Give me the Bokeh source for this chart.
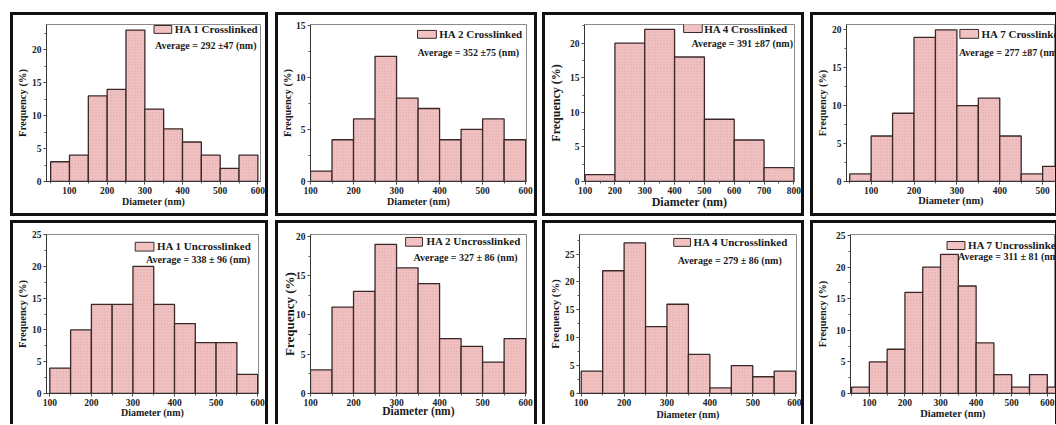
import math
from bokeh.plotting import figure
from bokeh.layouts import row, column
from bokeh.models import Spacer, Label, BoxAnnotation, SingleIntervalTicker, Range1d
from bokeh.embed import file_html
from bokeh.resources import INLINE

# ---------------- data ----------------
ha1_cl_left = [50, 100, 150, 200, 250, 300, 350, 400, 450, 500, 550]
ha1_cl_freq = [3, 4, 13, 14, 23, 11, 8, 6, 4, 2, 4]
ha2_cl_left = [100, 150, 200, 250, 300, 350, 400, 450, 500, 550]
ha2_cl_freq = [1, 4, 6, 12, 8, 7, 4, 5, 6, 4]
ha4_cl_left = [100, 200, 300, 400, 500, 600, 700]
ha4_cl_freq = [1, 20, 22, 18, 9, 6, 2]
ha7_cl_left = [50, 100, 150, 200, 250, 300, 350, 400, 450, 500]
ha7_cl_freq = [1, 6, 9, 19, 20, 10, 11, 6, 1, 2]
ha1_un_left = [100, 150, 200, 250, 300, 350, 400, 450, 500, 550]
ha1_un_freq = [4, 10, 14, 14, 20, 14, 11, 8, 8, 3]
ha2_un_left = [100, 150, 200, 250, 300, 350, 400, 450, 500, 550]
ha2_un_freq = [3, 11, 13, 19, 16, 14, 7, 6, 4, 7]
ha4_un_left = [100, 150, 200, 250, 300, 350, 400, 450, 500, 550]
ha4_un_freq = [4, 22, 27, 12, 16, 7, 1, 5, 3, 4]
ha7_un_left = [50, 100, 150, 200, 250, 300, 350, 400, 450, 500, 550, 600]
ha7_un_freq = [1, 5, 7, 16, 20, 22, 17, 8, 3, 1, 3, 1]

bin_widths = [50, 50, 100, 50, 50, 50, 50, 50]
titles = ["HA 1 Crosslinked", "HA 2 Crosslinked", "HA 4 Crosslinked", "HA 7 Crosslinked",
          "HA 1 Uncrosslinked", "HA 2 Uncrosslinked", "HA 4 Uncrosslinked", "HA 7 Uncrosslinked"]
averages = ["Average = 292 \u00b147 (nm)", "Average = 352 \u00b175 (nm)", "Average = 391 \u00b187 (nm)",
            "Average = 277 \u00b187 (nm)", "Average = 338 \u00b1 96 (nm)", "Average = 327 \u00b1 86 (nm)",
            "Average = 279 \u00b1 86 (nm)", "Average = 311 \u00b1 81 (nm)"]
x_title = "Diameter (nm)"
y_title = "Frequency (%)"

lefts = [ha1_cl_left, ha2_cl_left, ha4_cl_left, ha7_cl_left,
         ha1_un_left, ha2_un_left, ha4_un_left, ha7_un_left]
freqs = [ha1_cl_freq, ha2_cl_freq, ha4_cl_freq, ha7_cl_freq,
         ha1_un_freq, ha2_un_freq, ha4_un_freq, ha7_un_freq]

# ---------------- layout / styling ----------------
FONT = "Liberation Serif"
BAR_FILL = "#f2c2c2"
BAR_LINE = "#3a2828"
TICK_OUT = 3
TICK_STANDOFF = 2
H_FACTOR = 1.33   # measured text-box height / font size

geo = [
    dict(w=252, h=198, frame=(30, 247, 9, 168), xr=(39, 607), yr=(0, 23.85),
         box=(139, 157, 10, 18), leg=(160, 14), avg=(140, 30),
         ylab=(7, 10.5), xlab=(193, 10), tick=9.5),
    dict(w=256, h=198, frame=(30, 248, 9, 168), xr=(100, 602), yr=(0, 15.05),
         box=(138, 157, 15, 23), leg=(160, 19), avg=(138, 37),
         ylab=(8, 10.5), xlab=(192, 10), tick=9.5),
    dict(w=256, h=198, frame=(35, 249, 9, 166), xr=(98, 802), yr=(0, 22.7),
         box=(136, 155, 8, 17), leg=(157, 13), avg=(144, 28),
         ylab=(8, 12), xlab=(192, 12), tick=9.5),
    dict(w=242, h=198, frame=(30, 242, 9, 168), xr=(42.5, 530), yr=(0, 20.7),
         box=(145, 164, 14, 23), leg=(167, 19), avg=(144, 37),
         ylab=(5, 10.3), xlab=(194, 10.4), tick=9.5),
    dict(w=252, h=201, frame=(30, 245, 9, 172), xr=(92, 602), yr=(0, 25),
         box=(120, 139, 17, 26), leg=(142, 21), avg=(131, 35),
         ylab=(7, 10.5), xlab=(199, 10), tick=9.5),
    dict(w=256, h=201, frame=(30, 248, 9, 172), xr=(100, 602), yr=(0, 20.25),
         box=(126, 143, 12, 21), leg=(147, 16), avg=(134, 33),
         ylab=(10, 13), xlab=(198, 11.5), tick=9.5),
    dict(w=256, h=201, frame=(30, 251, 9, 170), xr=(96, 602), yr=(0, 28.5),
         box=(126, 143, 13, 21), leg=(146, 17), avg=(130, 35),
         ylab=(6, 10.8), xlab=(196, 10), tick=9.5),
    dict(w=242, h=201, frame=(36, 242, 11, 170), xr=(47, 623), yr=(0, 25.15),
         box=(133, 151, 18, 26), leg=(154, 21), avg=(144, 33),
         ylab=(9, 10.3), xlab=(196, 10.4), tick=9.5),
]

RING_ALL = "0 0 0 3px #111"
RING_NO_BOTTOM = ("-3px 0 0 0 #111, 3px 0 0 0 #111, 0 -3px 0 0 #111, "
                  "-3px -3px 0 0 #111, 3px -3px 0 0 #111")


def make_panel(i):
    g = geo[i]
    L, R, T, B = g["frame"]
    x0, x1 = g["xr"]
    y0, y1 = g["yr"]
    W, H = g["w"], g["h"]

    def dx(px):
        return x0 + (px - L) / (R - L) * (x1 - x0)

    def dy(py):
        return y1 - (py - T) / (B - T) * (y1 - y0)

    p = figure(width=W, height=H, output_backend="svg", toolbar_location=None,
               title_location=None,
               x_range=Range1d(x0, x1), y_range=Range1d(y0, y1),
               min_border_left=L, min_border_right=W - R,
               min_border_top=T, min_border_bottom=H - B,
               background_fill_color="white", border_fill_color="white",
               styles={"box-shadow": RING_ALL if i < 4 else RING_NO_BOTTOM})
    p.xgrid.visible = False
    p.ygrid.visible = False
    p.outline_line_color = "#8a8a8a"
    p.outline_line_width = 1

    p.xaxis.ticker = SingleIntervalTicker(interval=100, num_minor_ticks=2)
    p.yaxis.ticker = SingleIntervalTicker(interval=5, num_minor_ticks=2)
    ts = g["tick"]
    for ax in (p.xaxis[0], p.yaxis[0]):
        ax.axis_line_color = "#333333"
        ax.axis_line_width = 1
        ax.major_tick_line_color = "#333333"
        ax.minor_tick_line_color = "#555555"
        ax.major_tick_out = TICK_OUT
        ax.major_tick_in = 0
        ax.minor_tick_out = 2
        ax.minor_tick_in = 0
        ax.major_label_standoff = TICK_STANDOFF
        ax.major_label_text_font = FONT
        ax.major_label_text_font_style = "bold"
        ax.major_label_text_font_size = f"{ts}px"
        ax.major_label_text_color = "#222222"
        ax.axis_label_text_font = FONT
        ax.axis_label_text_font_style = "bold"
        ax.axis_label_text_color = "#1a1a1a"

    # y-axis title
    ycx, yfs = g["ylab"]
    yax = p.yaxis[0]
    yax.axis_label = y_title
    yax.axis_label_text_font_size = f"{yfs}px"
    inner = TICK_OUT + TICK_STANDOFF + ts * 1.0
    so = (L - ycx) - inner - yfs * H_FACTOR / 2
    so = min(so, L - inner - yfs * H_FACTOR)
    yax.axis_label_standoff = int(math.floor(so))

    # x-axis title
    xcy, xfs = g["xlab"]
    xax = p.xaxis[0]
    xax.axis_label = x_title
    xax.axis_label_text_font_size = f"{xfs}px"
    inner = TICK_OUT + TICK_STANDOFF + ts * H_FACTOR
    so = (xcy - B) - inner - xfs * H_FACTOR / 2
    so = min(so, (H - B) - inner - xfs * H_FACTOR)
    xax.axis_label_standoff = int(math.floor(so))

    w = bin_widths[i]
    lf = lefts[i]
    p.quad(left=lf, right=[v + w for v in lf], bottom=0, top=freqs[i],
           fill_color=BAR_FILL, line_color=BAR_LINE, line_width=1.3,
           hatch_pattern="dot", hatch_color="#b07878", hatch_alpha=0.35,
           hatch_scale=3, hatch_weight=0.6)

    bl, br, bt, bb = g["box"]
    p.add_layout(BoxAnnotation(left=dx(bl), right=dx(br), top=dy(bt), bottom=dy(bb),
                               fill_color=BAR_FILL, fill_alpha=1.0,
                               line_color=BAR_LINE, line_alpha=1.0, line_width=1))
    p.add_layout(Label(x=dx(g["leg"][0]), y=dy(g["leg"][1]), text=titles[i],
                       text_font=FONT, text_font_style="bold", text_font_size="11px",
                       text_color="#1a1a1a", text_align="left", text_baseline="middle"))
    p.add_layout(Label(x=dx(g["avg"][0]), y=dy(g["avg"][1]), text=averages[i],
                       text_font=FONT, text_font_style="bold", text_font_size="10px",
                       text_color="#1a1a1a", text_align="left", text_baseline="middle"))
    return p


panels = [make_panel(i) for i in range(8)]

row1 = row(Spacer(width=13, height=198), panels[0], Spacer(width=13, height=198), panels[1],
           Spacer(width=11, height=198), panels[2], Spacer(width=12, height=198), panels[3])
row2 = row(Spacer(width=13, height=201), panels[4], Spacer(width=13, height=201), panels[5],
           Spacer(width=11, height=201), panels[6], Spacer(width=12, height=201), panels[7])
layout = column(Spacer(width=1055, height=15), row1, Spacer(width=1055, height=10), row2)

open("out.html", "w").write(file_html(layout, INLINE))
